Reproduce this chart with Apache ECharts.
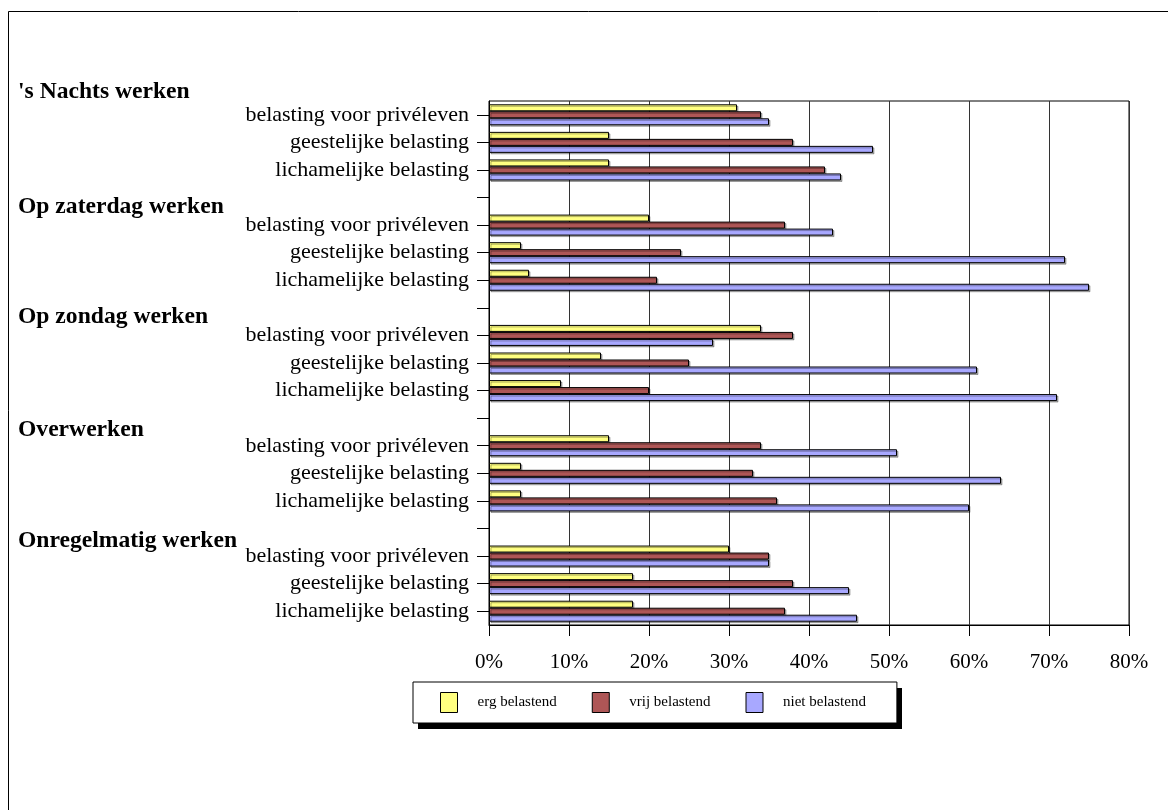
<!DOCTYPE html>
<html>
<head>
<meta charset="utf-8">
<style>
  html, body { margin: 0; padding: 0; background: #fff; }
  #chart { width: 1168px; height: 810px; }
</style>
<script src="https://cdn.jsdelivr.net/npm/echarts@6/dist/echarts.min.js"></script>
</head>
<body>
<div id="chart"></div>
<script>
// onderdelen per groep (van boven naar beneden)
const items = ['belasting voor privéleven', 'geestelijke belasting', 'lichamelijke belasting'];
const groups = ["'s Nachts werken", 'Op zaterdag werken', 'Op zondag werken', 'Overwerken', 'Onregelmatig werken'];
const seriesNames = ['erg belastend', 'vrij belastend', 'niet belastend'];

// percentages, per groep drie waarden (privéleven, geestelijk, lichamelijk)
const ergBelastend = [31, 15, 15, 20, 4, 5, 34, 14, 9, 15, 4, 4, 30, 18, 18];
const vrijBelastend = [34, 38, 42, 37, 24, 21, 38, 25, 20, 34, 33, 36, 35, 38, 37];
const nietBelastend = [35, 48, 44, 43, 72, 75, 28, 61, 71, 51, 64, 60, 35, 45, 46];

const xTicks = [0, 10, 20, 30, 40, 50, 60, 70, 80];

// categorieen met een lege regel tussen de groepen
const cats = [];
const rows = []; // index in de waarde-arrays, of -1 voor een lege regel
groups.forEach((g, gi) => {
  if (gi > 0) { cats.push(''); rows.push(-1); }
  items.forEach((it, ii) => { cats.push(it); rows.push(gi * 3 + ii); });
});
const pick = arr => rows.map(r => (r < 0 ? '-' : arr[r]));

const serif = '"Liberation Serif", "Times New Roman", serif';
const colors = ['#FFFF80', '#AE5656', '#A8A8FF'];
const headerY = [92, 207, 317, 430, 541];

const chart = echarts.init(document.getElementById('chart'));

const barStyle = c => ({
  color: c,
  borderColor: '#000',
  borderWidth: 1,
  shadowColor: 'rgba(0,0,0,0.3)',
  shadowOffsetX: 1.5,
  shadowOffsetY: 1.5,
  shadowBlur: 0
});

chart.setOption({
  animation: false,
  backgroundColor: '#fff',
  grid: { left: 489, right: 39, top: 101, bottom: 185, show: true, borderColor: '#000', borderWidth: 1 },
  xAxis: {
    type: 'value',
    min: xTicks[0],
    max: xTicks[xTicks.length - 1],
    interval: 10,
    axisLine: { show: true, lineStyle: { color: '#000', width: 1 } },
    axisTick: { show: true, length: 11, lineStyle: { color: '#000' } },
    axisLabel: { formatter: '{value}%', fontFamily: serif, fontSize: 21, color: '#000', margin: 27 },
    splitLine: { show: true, lineStyle: { color: '#333', width: 1 } }
  },
  yAxis: {
    type: 'category',
    inverse: true,
    data: cats,
    axisLine: { show: true, lineStyle: { color: '#000', width: 1 } },
    axisTick: { show: true, alignWithLabel: true, interval: 0, length: 12, lineStyle: { color: '#000' } },
    axisLabel: { interval: 0, fontFamily: serif, fontSize: 22, color: '#000', margin: 20 }
  },
  legend: {
    left: 413,
    top: 682,
    z: 5,
    orient: 'horizontal',
    padding: [10, 31, 10, 27],
    itemWidth: 17,
    itemHeight: 20,
    itemGap: 35,
    backgroundColor: '#fff',
    borderColor: '#000',
    borderWidth: 1,
    icon: 'rect',
    itemStyle: { borderColor: '#000', borderWidth: 1, shadowColor: 'transparent', shadowOffsetX: 0, shadowOffsetY: 0 },
    textStyle: { fontFamily: serif, fontSize: 15, color: '#000', padding: [0, 0, 0, 15] },
    data: seriesNames
  },
  graphic: [
    {
      type: 'polyline',
      shape: { points: [[8.5, 810], [8.5, 11.5], [1168, 11.5]] },
      style: { stroke: '#000', lineWidth: 1, fill: null }
    },
    {
      // schaduw achter de legenda
      type: 'rect',
      z: 1,
      shape: { x: 418, y: 688, width: 484, height: 41 },
      style: { fill: '#000' }
    }
  ].concat(groups.map((g, i) => ({
    type: 'text',
    x: 18,
    y: headerY[i],
    style: { text: g, font: 'bold 23.6px ' + serif, fill: '#000', align: 'left', verticalAlign: 'middle' }
  }))),
  series: [
    { name: seriesNames[0], type: 'bar', data: pick(ergBelastend), barWidth: 7, barGap: '0%', itemStyle: barStyle(colors[0]) },
    { name: seriesNames[1], type: 'bar', data: pick(vrijBelastend), barWidth: 7, barGap: '0%', itemStyle: barStyle(colors[1]) },
    { name: seriesNames[2], type: 'bar', data: pick(nietBelastend), barWidth: 7, barGap: '0%', itemStyle: barStyle(colors[2]) }
  ]
});
</script>
</body>
</html>
